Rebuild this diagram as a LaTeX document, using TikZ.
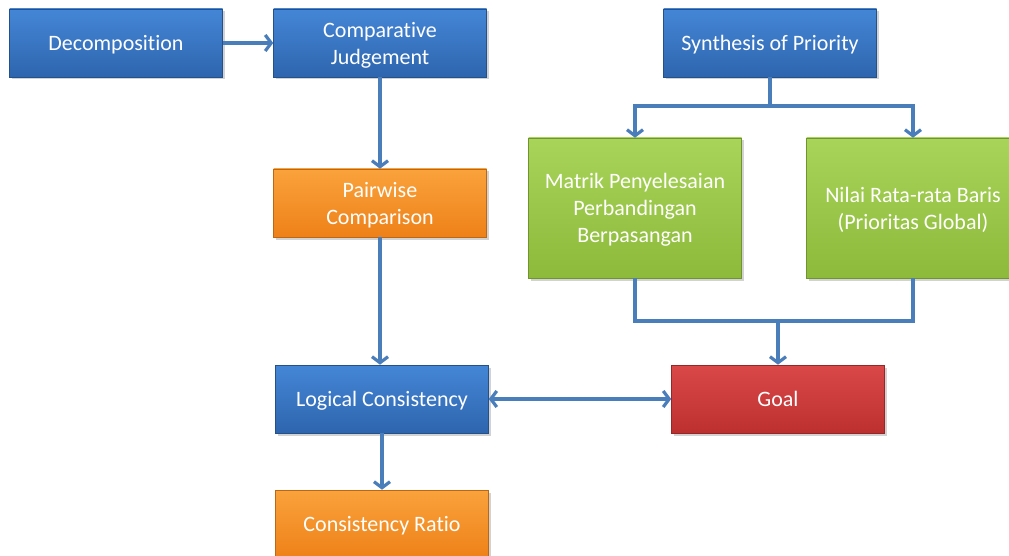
\documentclass[tikz,border=0pt]{standalone}
\usepackage{fontspec}
\setmainfont{Carlito}[Ligatures=NoCommon]
\usetikzlibrary{arrows.meta,shadows}
\definecolor{lineblue}{HTML}{4A7EBB}
\definecolor{blueT}{HTML}{4486D6}
\definecolor{blueB}{HTML}{2E65AE}
\definecolor{orT}{HTML}{FAA23C}
\definecolor{orB}{HTML}{EE8118}
\definecolor{grT}{HTML}{A8D45A}
\definecolor{grB}{HTML}{8DBA3A}
\definecolor{rdT}{HTML}{DA4848}
\definecolor{rdB}{HTML}{BD3030}
\tikzset{
  box/.style={rectangle, minimum width=213pt, minimum height=68pt, text=white,
    font=\fontsize{22}{27}\selectfont, align=center, inner sep=2pt, text depth=0pt,
    draw=#1B!80!black, line width=0.6pt,
    top color=#1T, bottom color=#1B,
    drop shadow={shadow xshift=2pt, shadow yshift=-2.5pt, opacity=0.35}},
  conn/.style={draw=lineblue, line width=3.2pt, line join=miter},
  arr/.style={conn, -{Straight Barb[length=6pt,width=16pt]}},
  darr/.style={conn, {Straight Barb[length=6pt,width=16pt]}-{Straight Barb[length=6pt,width=16pt]}}
}
\begin{document}
\begin{tikzpicture}[x=1pt,y=-1pt]
\useasboundingbox[fill=white] (0,0) rectangle (1009,556);
\node[box=blue] (dec) at (116,43) {Decomposition};
\node[box=blue] (cj) at (380,43) {Comparative\\Judgement};
\node[box=blue] (syn) at (770,43) {Synthesis of Priority};
\node[box=or] (pc) at (380,203) {Pairwise\\Comparison};
\node[box=gr, minimum height=140pt] (mat) at (635,208) {Matrik Penyelesaian\\Perbandingan\\Berpasangan};
\node[box=gr, minimum height=140pt] (nil) at (913,208) {Nilai Rata-rata Baris\\(Prioritas Global)};
\node[box=blue] (lc) at (382,399) {Logical Consistency};
\node[box=rd] (goal) at (778,399) {Goal};
\node[box=or] (cr) at (382,524) {Consistency Ratio};
\coordinate (fork) at (770,106);
\coordinate (join) at (778,321);
\draw[arr] (dec.east) -- (cj.west);
\draw[arr] (cj.south) -- (pc.north);
\draw[arr] (pc.south) -- (pc.south |- lc.north);
\draw[arr] (lc.south) -- (lc.south |- cr.north);
\draw[darr] (lc.east) -- (goal.west);
\draw[conn] (syn.south) -- (fork);
\draw[arr] (fork) -| (mat.north);
\draw[arr] (fork) -| (nil.north);
\draw[conn] (mat.south) |- (join);
\draw[conn] (nil.south) |- (join);
\draw[arr] (join) -- (goal.north);
\end{tikzpicture}
\end{document}
